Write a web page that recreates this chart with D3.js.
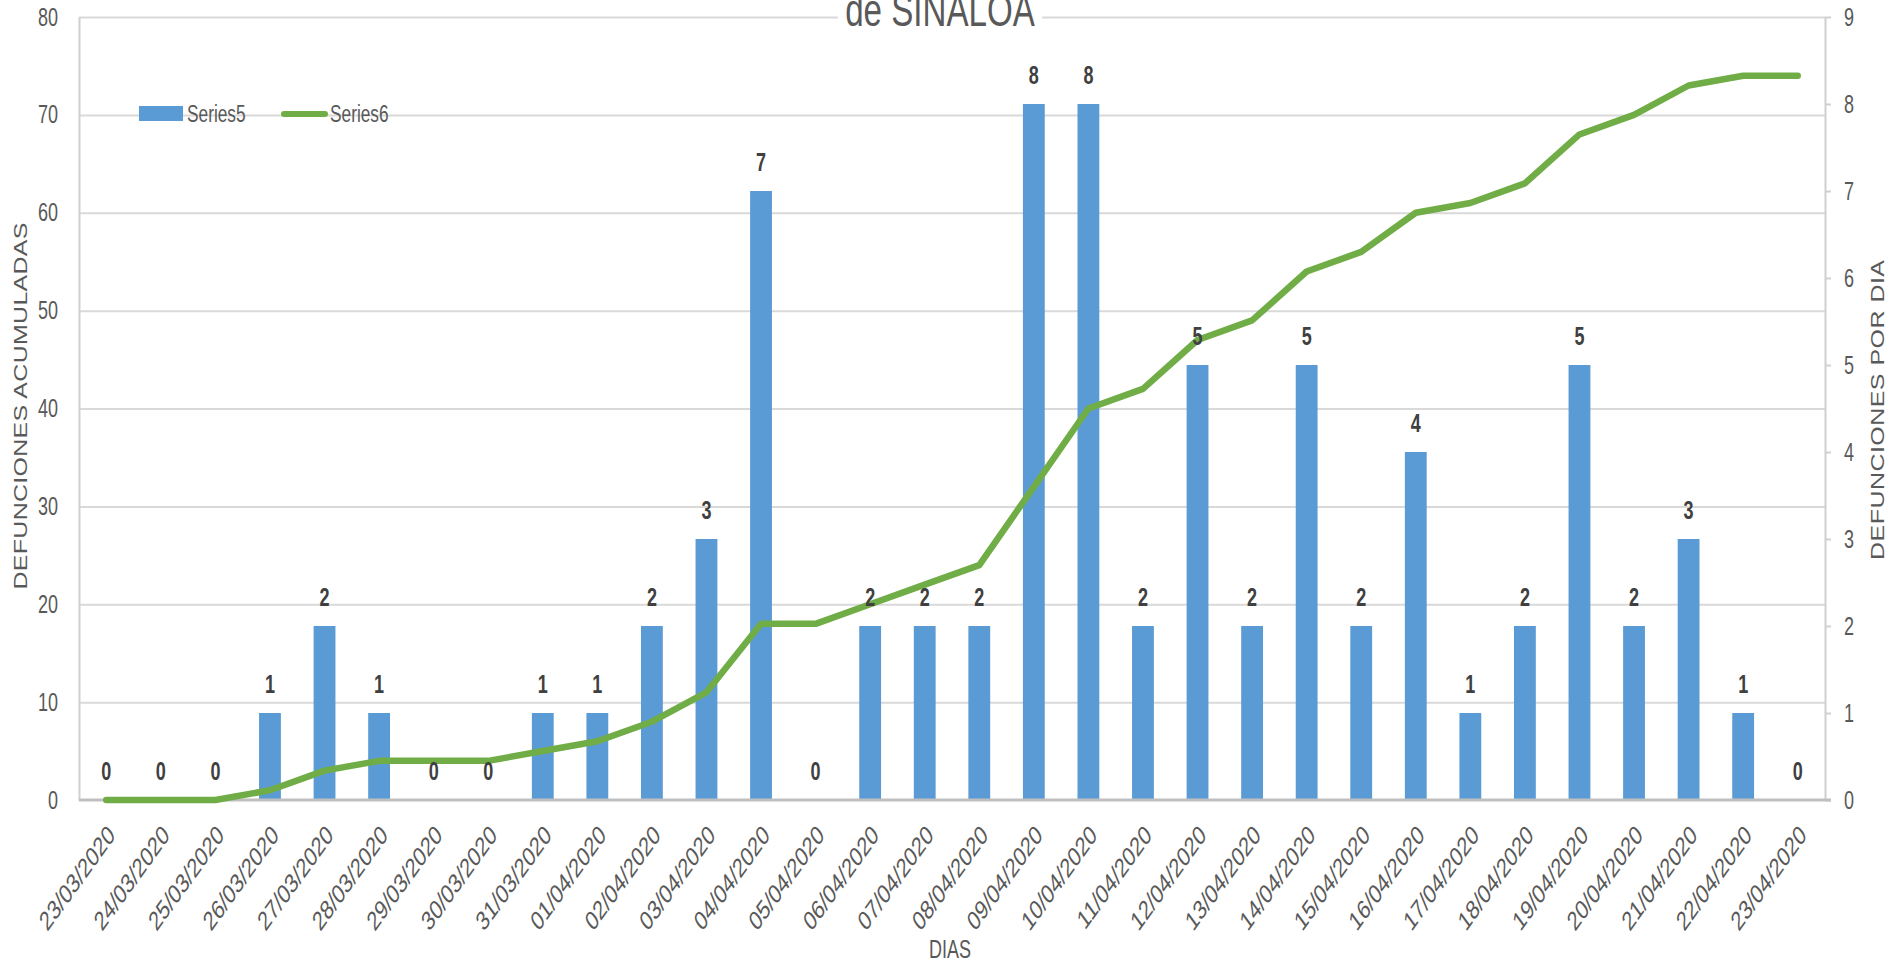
<!DOCTYPE html>
<html>
<head>
<meta charset="utf-8">
<script src="https://cdn.jsdelivr.net/npm/d3@7"></script>
<style>
    body { margin: 0; background: #fff; }
    svg { display: block; }
    text { font-family: "Liberation Sans", Arimo, Arial, sans-serif; fill: #595959; }
    .tick-label { font-size: 25px; }
    .x-label { font-size: 27px; }
    .data-label { fill: #404040; font-size: 25px; font-weight: bold; }
    .axis-title { font-size: 25px; }
</style>
</head>
<body>
<div id="chart"></div>
<script>
const dates = [
    "23/03/2020", "24/03/2020", "25/03/2020", "26/03/2020", "27/03/2020", "28/03/2020",
    "29/03/2020", "30/03/2020", "31/03/2020", "01/04/2020", "02/04/2020", "03/04/2020",
    "04/04/2020", "05/04/2020", "06/04/2020", "07/04/2020", "08/04/2020", "09/04/2020",
    "10/04/2020", "11/04/2020", "12/04/2020", "13/04/2020", "14/04/2020", "15/04/2020",
    "16/04/2020", "17/04/2020", "18/04/2020", "19/04/2020", "20/04/2020", "21/04/2020",
    "22/04/2020", "23/04/2020"
];
// Series5: deaths per day (right axis)
const perDay = [0, 0, 0, 1, 2, 1, 0, 0, 1, 1, 2, 3, 7, 0, 2, 2, 2, 8, 8, 2, 5, 2, 5, 2, 4, 1, 2, 5, 2, 3, 1, 0];
// Series6: accumulated deaths (left axis)
const accumulated = [0, 0, 0, 1, 3, 4, 4, 4, 5, 6, 8, 11, 18, 18, 20, 22, 24, 32, 40, 42, 47, 49, 54, 56, 60, 61, 63, 68, 70, 73, 74, 74];
const leftTicks = [0, 10, 20, 30, 40, 50, 60, 70, 80];
const rightTicks = [0, 1, 2, 3, 4, 5, 6, 7, 8, 9];
const seriesNames = ["Series5", "Series6"];

const width = 1889, height = 964;
const plot = {left: 79, right: 1825, top: 17, bottom: 800};
const blue = "#5B9BD5", green = "#70AD47";
// the original picture is squeezed horizontally, so every text is too
const sx = 0.72;
const squash = (x, y, rot) => `translate(${x},${y}) scale(${sx},1)` + (rot ? ` rotate(${rot})` : "");

const svg = d3.select("#chart").append("svg")
    .attr("width", width)
    .attr("height", height);

const x = d3.scaleBand()
    .domain(dates)
    .range([plot.left, plot.right])
    .paddingInner(0.6)
    .paddingOuter(0.3);
const yLeft = d3.scaleLinear().domain([0, 80]).range([plot.bottom, plot.top]);
const yRight = d3.scaleLinear().domain([0, 9]).range([plot.bottom, plot.top]);
const cx = d => x(d) + x.bandwidth() / 2;

// gridlines from the left axis
svg.append("g")
    .attr("transform", `translate(${plot.left},0)`)
    .call(d3.axisLeft(yLeft).tickValues(leftTicks.slice(1)).tickFormat("").tickSize(-(plot.right - plot.left)))
    .call(g => g.select(".domain").remove())
    .selectAll("line")
    .attr("stroke", "#D9D9D9")
    .attr("stroke-width", 2);

// left axis
const leftAxis = svg.append("g")
    .attr("transform", `translate(${plot.left},0)`)
    .call(d3.axisLeft(yLeft).tickValues(leftTicks).tickSize(0));
leftAxis.select(".domain").attr("stroke", "#D0D0D0").attr("stroke-width", 2);
leftAxis.selectAll("text")
    .attr("class", "tick-label")
    .attr("font-size", null).attr("font-family", null).attr("fill", null)
    .attr("x", null)
    .attr("transform", squash(-21, 0));

// right axis
const rightAxis = svg.append("g")
    .attr("transform", `translate(${plot.right},0)`)
    .call(d3.axisRight(yRight).tickValues(rightTicks).tickSize(6).tickSizeOuter(0));
rightAxis.select(".domain").attr("stroke", "#D0D0D0").attr("stroke-width", 2);
rightAxis.selectAll("line").attr("stroke", "#D0D0D0").attr("stroke-width", 2);
rightAxis.selectAll("text")
    .attr("class", "tick-label")
    .attr("font-size", null).attr("font-family", null).attr("fill", null)
    .attr("x", null)
    .attr("transform", squash(19, 0));

// bars
svg.append("g").selectAll("rect")
    .data(dates)
    .join("rect")
    .attr("x", d => x(d))
    .attr("width", x.bandwidth())
    .attr("y", (d, i) => yRight(perDay[i]))
    .attr("height", (d, i) => plot.bottom - yRight(perDay[i]))
    .attr("fill", blue);

// x axis
const xAxis = svg.append("g")
    .attr("transform", `translate(0,${plot.bottom})`)
    .call(d3.axisBottom(x).tickSize(0).tickSizeOuter(0));
xAxis.select(".domain")
    .attr("d", `M${plot.left},0H${plot.right + 6}`)
    .attr("stroke", "#BFBFBF")
    .attr("stroke-width", 3);
xAxis.selectAll("text")
    .attr("class", "x-label")
    .attr("font-size", null).attr("font-family", null).attr("fill", null)
    .attr("text-anchor", "end")
    .attr("dy", "0.35em")
    .attr("y", null)
    .attr("transform", squash(5, 30, -45));

// accumulated line
const line = d3.line()
    .x((d, i) => cx(dates[i]))
    .y(d => yLeft(d));
svg.append("path")
    .attr("d", line(accumulated))
    .attr("fill", "none")
    .attr("stroke", green)
    .attr("stroke-width", 6.5)
    .attr("stroke-linejoin", "round")
    .attr("stroke-linecap", "round");

// data labels on bars
svg.append("g").selectAll("text")
    .data(dates)
    .join("text")
    .attr("class", "data-label")
    .attr("transform", (d, i) => squash(cx(d), yRight(perDay[i]) - 20))
    .attr("text-anchor", "middle")
    .text((d, i) => perDay[i]);

// title (only its second line shows)
svg.append("rect")
    .attr("x", 838).attr("y", 0).attr("width", 204).attr("height", 32)
    .attr("fill", "#fff");
svg.append("text")
    .attr("transform", squash(940, 26))
    .attr("text-anchor", "middle")
    .attr("font-size", 46)
    .text("de SINALOA");

// legend
const legend = svg.append("g");
legend.append("rect")
    .attr("x", 139).attr("y", 106).attr("width", 44).attr("height", 15)
    .attr("fill", blue);
legend.append("text")
    .attr("font-size", 24)
    .attr("transform", squash(187, 114))
    .attr("dy", "0.35em")
    .text(seriesNames[0]);
legend.append("line")
    .attr("x1", 284).attr("x2", 325).attr("y1", 114).attr("y2", 114)
    .attr("stroke", green).attr("stroke-width", 6).attr("stroke-linecap", "round");
legend.append("text")
    .attr("font-size", 24)
    .attr("transform", squash(330, 114))
    .attr("dy", "0.35em")
    .text(seriesNames[1]);

// axis titles
svg.append("text")
    .attr("class", "axis-title")
    .attr("transform", squash(27, 406, -90))
    .attr("text-anchor", "middle")
    .attr("textLength", 367)
    .text("DEFUNCIONES  ACUMULADAS");
svg.append("text")
    .attr("class", "axis-title")
    .attr("transform", squash(1884, 410, -90))
    .attr("text-anchor", "middle")
    .attr("textLength", 300)
    .text("DEFUNCIONES  POR DIA");
svg.append("text")
    .attr("transform", squash(950, 958))
    .attr("text-anchor", "middle")
    .attr("font-size", 25)
    .text("DIAS");
</script>
</body>
</html>
